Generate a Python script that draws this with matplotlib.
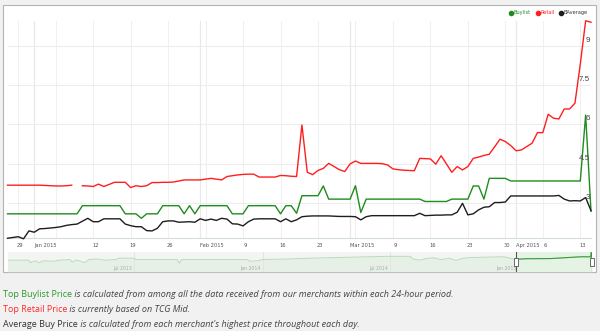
import datetime as dt
import matplotlib
matplotlib.use('Agg')
import matplotlib.pyplot as plt
import matplotlib.dates as mdates
from matplotlib.patches import Rectangle
from matplotlib.lines import Line2D
from matplotlib.transforms import offset_copy

W, H = 600, 331

# ---- dados (um ponto por dia, 27/12/2014 a 15/04/2015) ----
first_day = dt.datetime(2014, 12, 27)
last_day = dt.datetime(2015, 4, 15)

retail = [3.69, 3.69, 3.69, 3.69, 3.69, 3.69, 3.69, 3.68, 3.67, 3.66, 3.66, 3.67, 3.69,
          float('nan'),
          3.67, 3.66, 3.64, 3.73, 3.64, 3.72, 3.80, 3.80, 3.80, 3.60, 3.67, 3.64, 3.67,
          3.79, 3.79, 3.80, 3.80,
          3.81, 3.85, 3.89, 3.89, 3.89, 3.89, 3.92, 3.95, 3.92, 3.89, 4.02, 4.05, 4.08,
          4.10, 4.11, 4.11, 4.00, 4.00, 4.00, 4.00, 4.06, 4.05, 4.03, 4.02,
          5.98,
          4.18, 4.09, 4.25, 4.33, 4.52, 4.40, 4.28, 4.21, 4.50, 4.61, 4.52, 4.52, 4.52,
          4.52, 4.51, 4.46, 4.31, 4.28, 4.26, 4.25, 4.24,
          4.71, 4.70, 4.69, 4.49, 4.81, 4.50, 4.18, 4.40, 4.27, 4.40, 4.71, 4.76, 4.82,
          4.87, 5.15,
          5.44, 5.35, 5.20, 5.00, 5.03, 5.16, 5.29, 5.69, 5.69, 6.39, 6.24, 6.21, 6.59,
          6.59, 6.81, 8.30, 9.95, 9.89]

buylist = [2.60, 2.60, 2.60, 2.60, 2.60, 2.60, 2.60, 2.60, 2.60, 2.60, 2.60, 2.60, 2.60, 2.60,
           2.91, 2.91, 2.91, 2.91, 2.91, 2.91, 2.91, 2.91,
           2.60, 2.60, 2.60, 2.43, 2.60, 2.60, 2.60,
           2.91, 2.91, 2.91, 2.91, 2.60, 2.91, 2.60,
           2.91, 2.91, 2.91, 2.91, 2.91, 2.91, 2.60, 2.60, 2.60,
           2.91, 2.91, 2.91, 2.91, 2.91, 2.91, 2.60, 2.91, 2.91, 2.62,
           3.29, 3.29, 3.29, 3.29, 3.66, 3.16, 3.16, 3.16, 3.16, 3.16, 3.67, 2.65,
           3.16, 3.16, 3.16, 3.16, 3.16, 3.16, 3.16, 3.16, 3.16, 3.16, 3.16,
           3.07, 3.07, 3.07, 3.07, 3.07, 3.16, 3.16, 3.16, 3.16, 3.66, 3.66, 3.16,
           3.95, 3.95, 3.95, 3.95,
           3.85, 3.85, 3.85, 3.85, 3.85, 3.85, 3.85, 3.85, 3.85, 3.85, 3.85, 3.85, 3.85, 3.85,
           6.36, 2.70]

baverage = [1.67, 1.70, 1.73, 1.65, 1.95, 1.90, 2.03, 2.04, 2.06, 2.08, 2.11, 2.16, 2.19, 2.21,
            2.32, 2.43, 2.30, 2.30, 2.41, 2.41, 2.41, 2.41, 2.21, 2.15, 2.11, 2.11, 1.96, 1.95, 2.05,
            2.30, 2.33, 2.33, 2.28, 2.29, 2.30, 2.28, 2.41, 2.35, 2.40, 2.35, 2.43, 2.40, 2.22,
            2.21, 2.14, 2.30,
            2.40, 2.41, 2.41, 2.41, 2.41, 2.30, 2.41, 2.30, 2.37, 2.49, 2.51, 2.52, 2.52, 2.52,
            2.52, 2.51, 2.50, 2.50, 2.50, 2.49,
            2.37, 2.49, 2.53, 2.53, 2.53, 2.53, 2.53, 2.53, 2.53, 2.53, 2.53, 2.62, 2.53, 2.54,
            2.55, 2.55, 2.56, 2.56,
            2.66, 3.00, 2.56, 2.60, 2.75, 2.85, 2.87, 3.03, 3.03, 3.05, 3.28, 3.28, 3.28, 3.28,
            3.28, 3.28, 3.28, 3.28, 3.28, 3.30, 3.16, 3.09, 3.10, 3.09, 3.22, 2.72]

days = [first_day + dt.timedelta(days=k) for k in range(len(retail))]

y_ticks = [3, 4.5, 6, 7.5, 9]
y_labels = ['3', '4.5', '6', '7.5', '9']

week_ticks = ['2014-12-29', '2015-01-12', '2015-01-19', '2015-01-26', '2015-02-09',
              '2015-02-16', '2015-02-23', '2015-03-09', '2015-03-16', '2015-03-23',
              '2015-03-30', '2015-04-06', '2015-04-13']
week_labels = ['29', '12', '19', '26', '9', '16', '23', '9', '16', '23', '30', '6', '13']
month_ticks = ['2015-01-01', '2015-02-01', '2015-03-01', '2015-04-01']
month_labels = ['Jan 2015', 'Feb 2015', 'Mar 2015', 'Apr 2015']
grid_days = ['2014-12-29', '2015-01-05', '2015-01-12', '2015-01-19', '2015-01-26',
             '2015-02-02', '2015-02-09', '2015-02-16', '2015-02-23', '2015-03-02',
             '2015-03-09', '2015-03-16', '2015-03-23', '2015-03-30', '2015-04-06',
             '2015-04-13']

# navegador (historico do buylist, leitura aproximada)
nav_dates = ['2013-01-02', '2013-02-01', '2013-02-04', '2013-02-10', '2013-02-16', '2013-02-22',
             '2013-03-10', '2013-03-16', '2013-04-01', '2013-04-04', '2013-04-10', '2013-04-22',
             '2013-04-28', '2013-05-10', '2013-05-20', '2013-06-05', '2013-06-10', '2013-07-01',
             '2013-07-04', '2013-09-01', '2013-09-04', '2013-09-07', '2013-12-10', '2013-12-13',
             '2013-12-27', '2013-12-30', '2014-02-05', '2014-03-10', '2014-06-01', '2014-06-25',
             '2014-07-30', '2014-08-02', '2014-08-12', '2014-08-21', '2014-09-01', '2014-09-12',
             '2014-09-24', '2014-10-03', '2014-10-11', '2014-10-22', '2014-12-10', '2014-12-27',
             '2015-01-10', '2015-02-15', '2015-03-31', '2015-04-13', '2015-04-14', '2015-04-15']
nav_values = [2.2, 2.2, 1.0, 1.9, 1.0, 1.9, 1.7, 2.2, 2.5, 1.3, 2.3, 1.0,
              2.5, 2.8, 2.2, 2.5, 3.2, 3.2, 2.5, 2.5, 0.7, 2.5, 2.5, 1.7,
              2.0, 2.5, 2.8, 3.2, 3.9, 4.1, 4.1, 2.9, 2.2, 3.0, 3.4, 2.5,
              3.2, 2.0, 3.0, 3.5, 3.9, 2.6, 2.9, 3.0, 3.9, 3.85, 6.36, 2.7]
nav_ticks = ['2013-07-01', '2014-01-01', '2014-07-01', '2015-01-01']
nav_tick_labels = ['Jul 2013', 'Jan 2014', 'Jul 2014', 'Jan 2015']

GREEN = '#1e8c1e'
RED = '#ff1e1e'
BLACK = '#1e1e1e'


def fx(px):
    return px / W


def fy(py):
    return 1 - py / H


def d(s):
    return mdates.date2num(dt.datetime.strptime(s, '%Y-%m-%d'))


fig = plt.figure(figsize=(W / 100, H / 100), dpi=100, facecolor='#f1f1f1')

# painel branco (atras de tudo)
fig.add_artist(Rectangle((fx(3), fy(272)), fx(593), 267 / H, transform=fig.transFigure,
                         facecolor='white', edgecolor='#b4b4b4', lw=0.8, zorder=-10))

# ---- grafico principal ----
ax = fig.add_axes([fx(7.5), fy(238), fx(583.5), 217.3 / H])
ax.set_facecolor('none')
ax.set_xlim(mdates.date2num(first_day), mdates.date2num(last_day))
ax.set_ylim(1.68, 9.95)
for s in ax.spines.values():
    s.set_visible(False)
ax.set_xticks([])
ax.set_yticks([])

for g in grid_days:
    ax.axvline(d(g), color='#f0f0f0', lw=0.8, zorder=0)
for g in month_ticks:
    ax.axvline(d(g), color='#e8e8e8', lw=0.9, zorder=0)
for v in y_ticks:
    ax.axhline(v, color='#ededed', lw=0.8, zorder=0)
ax.axhline(1.68, color='#d4dcdc', lw=0.8, zorder=0, clip_on=False)

ax.plot(days, retail, color=RED, lw=1.0, clip_on=False, zorder=3)
ax.plot(days, buylist, color=GREEN, lw=1.0, clip_on=False, zorder=3)
ax.plot(days, baverage, color=BLACK, lw=1.0, clip_on=False, zorder=3)

# rotulos do eixo y (dentro do grafico, a direita)
ylab_tr = offset_copy(ax.transData, fig=fig, x=-1, y=2, units='dots')
for v, lab in zip(y_ticks, y_labels):
    ax.text(mdates.date2num(last_day), v, lab, transform=ylab_tr, ha='right', va='bottom',
            fontsize=5.8, family='Liberation Sans', color='#444444', zorder=4)

# rotulos do eixo x
xt = ax.get_xaxis_transform()
week_tr = offset_copy(xt, fig=fig, x=2, y=0, units='dots')
for t, lab in zip(week_ticks, week_labels):
    ax.text(d(t), -7.5 / 217.3, lab, transform=week_tr, ha='center', va='center',
            fontsize=3.7, color='#555555')
for t, lab in zip(month_ticks, month_labels):
    ax.text(d(t), -7.5 / 217.3, lab, transform=xt, ha='left', va='center',
            fontsize=3.7, color='#555555')

# legenda
leg = [(511, GREEN, 'Buylist', GREEN), (538, RED, 'Retail', RED), (561, BLACK, 'BAverage', '#333333')]
for px, mc, lab, tc in leg:
    fig.add_artist(Line2D([fx(px)], [fy(12.7)], transform=fig.transFigure, marker='o',
                          markersize=3.0, color=mc, lw=0))
    fig.text(fx(px + 2.5), fy(12.7), lab, fontsize=3.6, color=tc, va='center', ha='left')

# ---- navegador ----
nav = fig.add_axes([fx(7.5), fy(271.7), fx(584.5), 20 / H])
nav.set_facecolor('#f3f5f3')
nav.set_xlim(d('2013-01-02'), d('2015-04-15'))
nav.set_ylim(-3.5, 6.4)
for s in nav.spines.values():
    s.set_visible(False)
nav.set_xticks([])
nav.set_yticks([])
nav_x = [d(s) for s in nav_dates]
nav.fill_between(nav_x, nav_values, -3.5, color='#e6f0e6', lw=0, zorder=1)
nav.plot(nav_x, nav_values, color='#b9dcb9', lw=0.7, zorder=2)
nav.axvspan(mdates.date2num(first_day), mdates.date2num(last_day), color='#e4f3e4', zorder=1.5)
sel = [(x, v) for x, v in zip(nav_x, nav_values) if x >= mdates.date2num(first_day)]
nav.plot([p[0] for p in sel], [p[1] for p in sel], color='#3a9a3a', lw=0.8, zorder=3)
for t, lab in zip(nav_ticks, nav_tick_labels):
    nav.axvline(d(t), color='#e2e6e2', lw=0.8, zorder=1.2)
    nav.text(d(t) - 3, 0.15, lab, transform=nav.get_xaxis_transform(), ha='right', va='center',
             fontsize=3.3, color='#aaaaaa', zorder=2)
handle_shape = [(-0.5, -1), (0.5, -1), (0.5, 1), (-0.5, 1), (-0.5, -1)]
for h in [mdates.date2num(first_day), mdates.date2num(last_day)]:
    nav.axvline(h, color='#555555', lw=0.8, zorder=4)
    nav.plot([h], [0.5], transform=nav.get_xaxis_transform(), marker=handle_shape,
             markersize=5.8, markerfacecolor='white', markeredgecolor='#555555',
             markeredgewidth=0.6, zorder=5, clip_on=False)

# ---- texto explicativo ----
renderer = fig.canvas.get_renderer()


def rich_line(py, parts):
    x = 3
    for s, color, style in parts:
        t = fig.text(fx(x), fy(py), s, color=color, style=style, fontsize=6.45,
                     family='Open Sans', va='center', ha='left')
        x += t.get_window_extent(renderer=renderer).width


rich_line(294.5, [('Top Buylist Price', '#2a9a2a', 'normal'),
                  (' is calculated from among all the data received from our merchants within each 24-hour period.',
                   '#444444', 'italic')])
rich_line(310, [('Top Retail Price', '#ff2a2a', 'normal'),
                (' is currently based on TCG Mid.', '#444444', 'italic')])
rich_line(324.5, [('Average Buy Price', '#333333', 'normal'),
                  (" is calculated from each merchant's highest price throughout each day.",
                   '#444444', 'italic')])

fig.savefig('out.png', dpi=100, facecolor=fig.get_facecolor())
